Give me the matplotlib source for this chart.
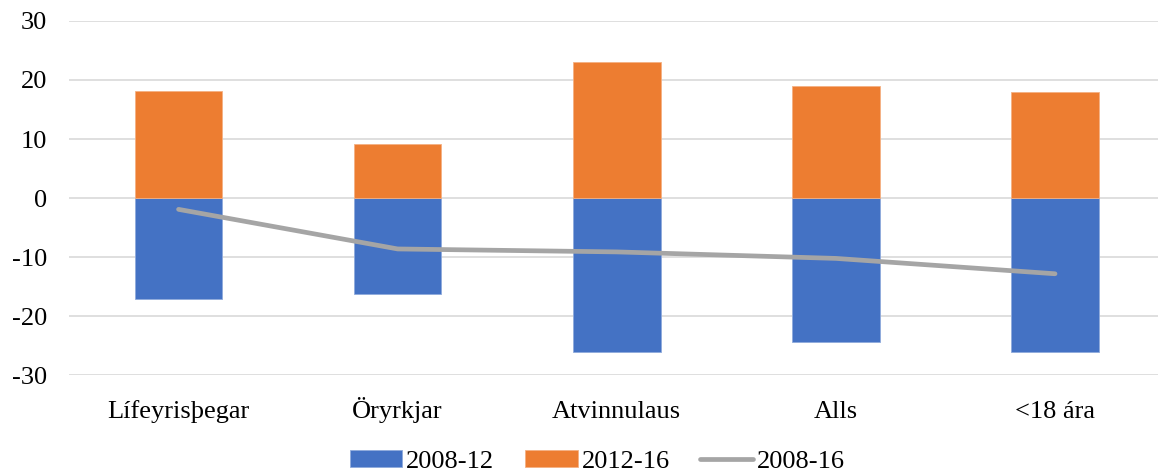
import matplotlib.pyplot as plt
import numpy as np

categories = ['Lífeyrisþegar', 'Öryrkjar', 'Atvinnulaus', 'Alls', '<18 ára']
change_2008_12 = [-17.1, -16.3, -26.1, -24.4, -26.1]
change_2012_16 = [18.2, 9.2, 23.1, 18.9, 17.9]
change_2008_16 = [-1.9, -8.6, -9.1, -10.2, -12.8]

plt.rcParams['font.family'] = ['Liberation Serif', 'DejaVu Serif']
plt.rcParams['axes.unicode_minus'] = False

fig = plt.figure(figsize=(11.58, 4.74), dpi=100)
ax = fig.add_axes([69 / 1158, 0.208, 1 - 69 / 1158, 0.748])

x_pos = np.arange(len(categories))
w = 0.40
b1 = ax.bar(x_pos, change_2008_12, width=w, color='#4472C4', edgecolor='#8faadc',
            linewidth=0.6, label='2008-12', zorder=2)
b2 = ax.bar(x_pos, change_2012_16, width=w, color='#ED7D31', edgecolor='#f4b183',
            linewidth=0.6, label='2012-16', zorder=2)
ln, = ax.plot(x_pos, change_2008_16, color='#A5A5A5', linewidth=3.4,
              solid_capstyle='round', solid_joinstyle='round', label='2008-16', zorder=3)

ax.set_ylim(-30, 30)
ax.set_xlim(-0.5, 4.47)
ax.set_yticks(np.arange(-30, 31, 10))
ax.set_xticks(x_pos, categories)
for t in ax.get_xticklabels():
    t.set_verticalalignment('baseline')
ax.grid(axis='y', color='#d9d9d9', linewidth=1.2, zorder=0)
ax.set_axisbelow(True)
for s in ax.spines.values():
    s.set_visible(False)
ax.tick_params(length=0, labelsize=19)
ax.tick_params(axis='x', pad=31)
ax.tick_params(axis='y', pad=16)

ax.legend([b1, b2, ln], ['2008-12', '2012-16', '2008-16'],
          loc='center', bbox_to_anchor=(0.485, -0.242), ncol=3, frameon=False,
          fontsize=19, handlelength=2.0, handleheight=0.6, columnspacing=1.15,
          handletextpad=0.15)

plt.savefig('out.png', dpi=100)
